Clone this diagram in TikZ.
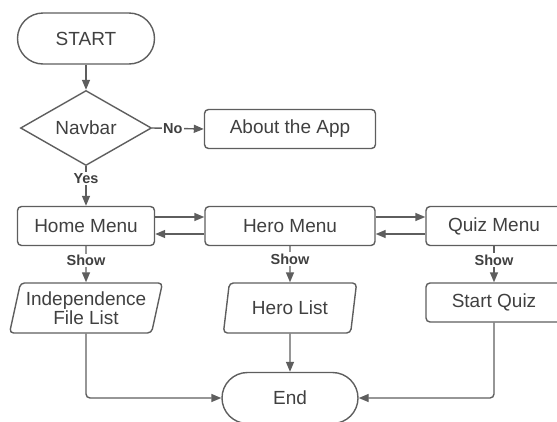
\documentclass[tikz,border=0pt]{standalone}
\usepackage{fontspec}
\setmainfont{Liberation Sans}
\usetikzlibrary{arrows.meta,shapes.geometric,shapes.misc}
\definecolor{linegray}{HTML}{5E5E5E}
\definecolor{textgray}{HTML}{404040}

\begin{document}
\begin{tikzpicture}[
  font=\fontsize{19}{19}\selectfont, text=textgray,
  base/.style={
    draw=linegray, align=center, inner sep=0pt, line width=1.4pt,
  },
  terminal/.style={base, rounded rectangle, minimum width=137pt, minimum height=51pt},
  decision/.style={base, diamond, aspect=1.75, minimum width=131pt, minimum height=75pt},
  menu/.style={base, rounded corners=4pt, minimum height=39pt},
  listbox/.style={
    base, trapezium, trapezium left angle=73, trapezium right angle=107,
    trapezium stretches=true, rounded corners=4pt, minimum height=50pt,
  },
  lbl/.style={fill=white, inner sep=1.5pt, font=\fontsize{14.5}{15}\selectfont\bfseries},
  flow/.style={-{Triangle[length=10pt, width=8pt]}, draw=linegray, line width=1.4pt},
]

\useasboundingbox (0pt, 0pt) rectangle (557pt, -421pt);
\clip (0pt, 0pt) rectangle (557pt, -421pt);

% ---- Entry and navigation -------------------------------------------------
\node[terminal] (start) at (86pt, -38.5pt) {START};
\node[decision] (navbar) at (86pt, -128pt) {Navbar};
\node[menu, minimum width=171pt] (about) at (290pt, -129pt) {About the App};

% ---- The three menus ------------------------------------------------------
\node[menu, minimum width=137pt] (home) at ( 86pt, -226pt) {Home Menu};
\node[menu, minimum width=170pt] (hero) at (290pt, -226pt) {Hero Menu};
\node[menu, minimum width=136pt] (quiz) at (494pt, -226pt) {Quiz Menu};

% ---- What each menu shows -------------------------------------------------
\node[listbox, minimum width=153pt] (indep) at ( 86pt, -308pt)
  {Independence\\File List};
\node[listbox, minimum width=134pt, trapezium left angle=75,
      trapezium right angle=105] (herolist) at (290pt, -308pt) {Hero List};
\node[menu, minimum width=136pt] (startquiz) at (494pt, -302.5pt) {Start Quiz};

\node[terminal, minimum width=136pt] (end) at (290pt, -398pt) {End};

% ---- Flows ----------------------------------------------------------------
\draw[flow] (start.south) -- (navbar.north);
\draw[flow] (navbar.east) -- node[lbl, pos=0.4] {No} (about.west);
\draw[flow] (navbar.south) -- node[lbl, pos=0.3] {Yes} (home.north);

\draw[flow] ([yshift=9pt]home.east) -- ([yshift=9pt]hero.west);
\draw[flow] ([yshift=-8pt]hero.west) -- ([yshift=-8pt]home.east);
\draw[flow] ([yshift=9pt]hero.east) -- ([yshift=9pt]quiz.west);
\draw[flow] ([yshift=-8pt]quiz.west) -- ([yshift=-8pt]hero.east);

\draw[flow] (home.south) -- node[lbl, pos=0.4] {Show} (indep.north);
\draw[flow] (hero.south) -- node[lbl, pos=0.36] {Show} (herolist.north);
\draw[flow] (quiz.south) -- node[lbl, pos=0.38] {Show} (startquiz.north);

% ---- Everything ends in one place ----------------------------------------
\draw[flow, rounded corners=4pt] (indep.south) |- (end.west);
\draw[flow] (herolist.south) -- (end.north);
\draw[flow, rounded corners=4pt] (startquiz.south) |- (end.east);

\end{tikzpicture}
\end{document}
